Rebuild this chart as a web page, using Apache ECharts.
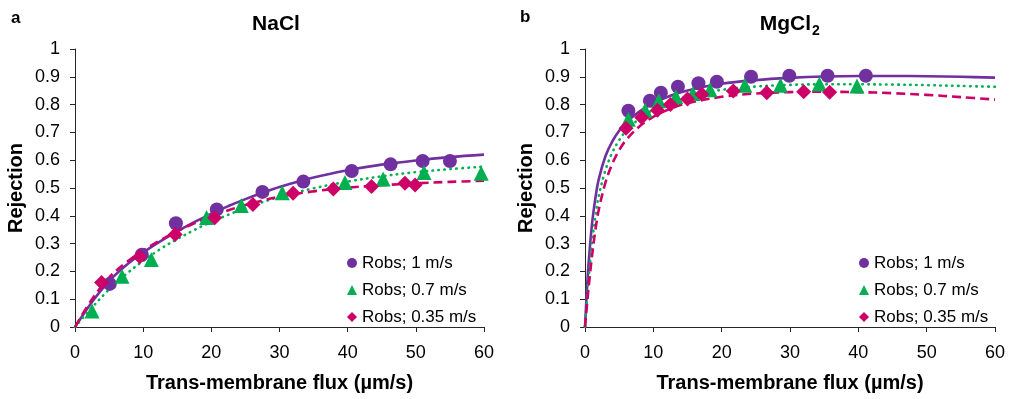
<!DOCTYPE html>
<html>
<head>
<meta charset="utf-8">
<script src="https://cdn.jsdelivr.net/npm/echarts@6/dist/echarts.min.js"></script>
<style>
  html, body { margin: 0; padding: 0; background: #fff; }
  #chart { width: 1009px; height: 399px; }
</style>
</head>
<body>
<div id="chart"></div>
<script>
// Series names shown in the legends
const seriesNames = ['Robs; 1 m/s', 'Robs; 0.7 m/s', 'Robs; 0.35 m/s'];

// Panel a: NaCl, observed rejection vs trans-membrane flux (µm/s)
const naclFlux1 = [5.1, 9.8, 14.8, 20.8, 27.5, 33.5, 40.6, 46.3, 51.0, 55.0];
const naclRej1 = [0.155, 0.26, 0.373, 0.423, 0.486, 0.523, 0.561, 0.585, 0.597, 0.597];
const naclFlux07 = [2.5, 6.9, 11.2, 19.3, 24.4, 30.4, 39.6, 45.2, 51.2, 59.6];
const naclRej07 = [0.058, 0.183, 0.243, 0.394, 0.437, 0.483, 0.52, 0.532, 0.556, 0.553];
const naclFlux035 = [3.9, 9.5, 14.7, 20.5, 26.1, 32.0, 37.9, 43.5, 48.4, 49.9];
const naclRej035 = [0.16, 0.253, 0.333, 0.393, 0.441, 0.481, 0.496, 0.505, 0.517, 0.511];

// Panel a: model curves
const naclFitFlux = [0, 2.5, 5, 7.5, 10, 12.5, 15, 17.5, 20, 22.5, 25, 27.5, 30, 35, 40, 45, 50, 55, 60];
const naclFit1 = [0, 0.09, 0.165, 0.222, 0.268, 0.308, 0.344, 0.377, 0.408, 0.435, 0.46, 0.483, 0.504, 0.538, 0.564, 0.584, 0.599, 0.611, 0.62];
const naclFit07 = [0, 0.07, 0.135, 0.19, 0.238, 0.28, 0.316, 0.349, 0.378, 0.404, 0.428, 0.449, 0.468, 0.499, 0.523, 0.542, 0.557, 0.568, 0.577];
const naclFit035 = [0, 0.1, 0.178, 0.232, 0.275, 0.312, 0.345, 0.373, 0.398, 0.42, 0.439, 0.455, 0.469, 0.488, 0.501, 0.51, 0.517, 0.522, 0.526];

// Panel b: MgCl2, observed rejection vs trans-membrane flux (µm/s)
const mgFlux1 = [6.35, 9.5, 11.1, 13.6, 16.6, 19.3, 24.3, 29.9, 35.5, 41.1];
const mgRej1 = [0.778, 0.814, 0.843, 0.864, 0.877, 0.882, 0.90, 0.904, 0.904, 0.904];
const mgFlux07 = [6.35, 8.8, 10.8, 13.3, 15.8, 18.3, 23.4, 28.6, 34.3, 39.8];
const mgRej07 = [0.747, 0.78, 0.814, 0.828, 0.84, 0.853, 0.87, 0.87, 0.874, 0.867];
const mgFlux035 = [6.0, 8.3, 10.6, 12.5, 15.0, 17.1, 21.7, 26.6, 32.0, 35.8];
const mgRej035 = [0.715, 0.754, 0.78, 0.80, 0.82, 0.837, 0.849, 0.843, 0.846, 0.844];

// Panel b: model curves
const mgFitFlux = [0, 0.25, 0.5, 1, 1.5, 2, 3, 4, 5, 6, 8, 10, 12.5, 15, 20, 25, 30, 35, 40, 45, 50, 55, 60];
const mgFit1 = [0, 0.12, 0.22, 0.365, 0.46, 0.53, 0.615, 0.668, 0.706, 0.735, 0.776, 0.805, 0.832, 0.851, 0.875, 0.888, 0.896, 0.901, 0.903, 0.903, 0.902, 0.9, 0.897];
const mgFit07 = [0, 0.085, 0.165, 0.295, 0.395, 0.47, 0.565, 0.628, 0.672, 0.705, 0.75, 0.781, 0.809, 0.829, 0.853, 0.865, 0.871, 0.873, 0.873, 0.872, 0.87, 0.867, 0.864];
const mgFit035 = [0, 0.07, 0.135, 0.25, 0.345, 0.42, 0.52, 0.588, 0.636, 0.672, 0.722, 0.756, 0.785, 0.805, 0.828, 0.84, 0.845, 0.846, 0.845, 0.841, 0.835, 0.827, 0.818];

const FONT = '"Liberation Sans", Arial, sans-serif';
const INK = '#000';
const AXIS = '#262626';
const colors = ['#7030A0', '#00B050', '#CC0066'];
const symbols = ['circle', 'triangle', 'diamond'];
const symbolSizes = [14, 15, 15];
const lineTypes = ['solid', [0.5, 5.5], [9, 5]];
const lineCaps = ['butt', 'round', 'butt'];

const zip = (xs, ys) => xs.map((x, i) => [x, ys[i]]);

function xAxisFor(gridIndex) {
  return {
    type: 'value', gridIndex, min: 0, max: 60, interval: 10,
    name: 'Trans-membrane flux (µm/s)', nameLocation: 'middle', nameGap: 46,
    nameTextStyle: { fontFamily: FONT, fontSize: 20, fontWeight: 'bold', color: INK },
    axisLine: { show: true, onZero: false, lineStyle: { color: AXIS, width: 1 } },
    axisTick: { show: true, inside: false, length: 5, lineStyle: { color: AXIS } },
    axisLabel: { fontFamily: FONT, fontSize: 18, color: INK, margin: 17 },
    splitLine: { show: false }
  };
}

function yAxisFor(gridIndex) {
  return {
    type: 'value', gridIndex, min: 0, max: 1, interval: 0.1,
    name: 'Rejection', nameLocation: 'middle', nameGap: 49, nameRotate: 90,
    nameTextStyle: { fontFamily: FONT, fontSize: 20, fontWeight: 'bold', color: INK },
    axisLine: { show: true, onZero: false, lineStyle: { color: AXIS, width: 1 } },
    axisTick: { show: true, inside: false, length: 5, lineStyle: { color: AXIS } },
    axisLabel: { fontFamily: FONT, fontSize: 18, color: INK, margin: 15,
                 formatter: v => String(+v.toFixed(1)) },
    splitLine: { show: false }
  };
}

function fitSeries(gridIndex, xs, fits) {
  return fits.map((ys, i) => ({
    type: 'line', name: 'fit-' + gridIndex + '-' + i,
    xAxisIndex: gridIndex, yAxisIndex: gridIndex,
    data: zip(xs, ys), smooth: 0.35,
    symbol: 'none', silent: true, z: 2,
    lineStyle: { color: colors[i], width: 2.6, type: lineTypes[i], cap: lineCaps[i] }
  }));
}

function obsSeries(gridIndex, pairs) {
  return pairs.map(([xs, ys], i) => ({
    type: 'scatter', name: seriesNames[i],
    xAxisIndex: gridIndex, yAxisIndex: gridIndex,
    data: zip(xs, ys), symbol: symbols[i], symbolSize: symbolSizes[i], z: 3 + i,
    itemStyle: { color: colors[i], opacity: 1 }
  }));
}

function legendAt(left) {
  return {
    data: seriesNames, orient: 'vertical', left, top: 249.5,
    itemWidth: 10, itemHeight: 10, itemGap: 10, selectedMode: false,
    textStyle: { fontFamily: FONT, fontSize: 17, lineHeight: 17, color: INK }
  };
}

const chart = echarts.init(document.getElementById('chart'), null, { renderer: 'canvas' });
chart.setOption({
  animation: false,
  backgroundColor: '#fff',
  grid: [
    { left: 75, top: 49, width: 409, height: 278 },
    { left: 585, top: 49, width: 410, height: 278 }
  ],
  xAxis: [xAxisFor(0), xAxisFor(1)],
  yAxis: [yAxisFor(0), yAxisFor(1)],
  legend: [legendAt(342), legendAt(854)],
  graphic: [
    { type: 'text', x: 11, y: 18, style: { text: 'a', font: 'bold 17px ' + FONT, fill: INK, align: 'left', verticalAlign: 'middle' } },
    { type: 'text', x: 520, y: 17, style: { text: 'b', font: 'bold 17px ' + FONT, fill: INK, align: 'left', verticalAlign: 'middle' } },
    { type: 'text', x: 276, y: 24, style: { text: 'NaCl', font: 'bold 21px ' + FONT, fill: INK, align: 'center', verticalAlign: 'middle' } },
    { type: 'text', x: 811, y: 24, style: { text: 'MgCl', font: 'bold 21px ' + FONT, fill: INK, align: 'right', verticalAlign: 'middle' } },
    { type: 'text', x: 812, y: 31, style: { text: '2', font: 'bold 14px ' + FONT, fill: INK, align: 'left', verticalAlign: 'middle' } }
  ],
  series: [
    ...fitSeries(0, naclFitFlux, [naclFit1, naclFit07, naclFit035]),
    ...obsSeries(0, [[naclFlux1, naclRej1], [naclFlux07, naclRej07], [naclFlux035, naclRej035]]),
    ...fitSeries(1, mgFitFlux, [mgFit1, mgFit07, mgFit035]),
    ...obsSeries(1, [[mgFlux1, mgRej1], [mgFlux07, mgRej07], [mgFlux035, mgRej035]])
  ]
});
</script>
</body>
</html>
